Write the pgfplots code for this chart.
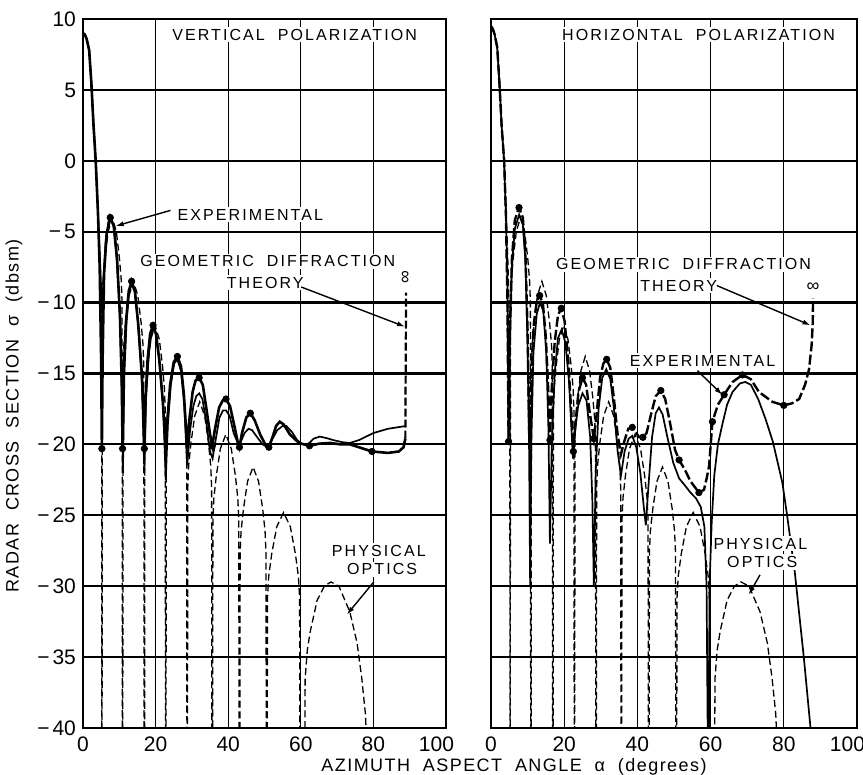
\documentclass[border=0pt]{standalone}
\usepackage{pgfplots}
\pgfplotsset{compat=1.18}
\usepackage{fontspec}
\setmainfont{Liberation Sans}
\newfontfamily\lab[LetterSpace=13]{Liberation Sans}
\newfontfamily\labt[LetterSpace=8]{Liberation Sans}
\usetikzlibrary{arrows.meta}

\pgfplotsset{
  panel/.style={
    scale only axis, width=181.5pt, height=354.5pt,
    xmin=0, xmax=100, ymin=-40, ymax=10,
    axis line style={line width=1.2pt},
    xtick={0,20,...,100}, xticklabels={0,20,40,60,80,\makebox[8pt][r]{100}},
    ytick={-40,-35,...,10},
    major tick length=0pt,
    ymajorgrids, major grid style={line width=1.1pt, black},
    extra x ticks={20,40,60,80}, extra x tick labels={},
    extra x tick style={grid=major, major grid style={line width=0.45pt, black}},
    tick label style={font=\fontsize{10.5}{12}\selectfont},
    xticklabel style={yshift=-1pt},
  },
  po/.style={black, line width=0.65pt, dash pattern=on 3.5pt off 1.8pt},
  ex/.style={black, line width=0.85pt},
  dot/.style={only marks, mark=*, mark size=1.6pt, black},
}
\tikzset{
  ann/.style={font=\lab\fontsize{8}{9}\selectfont, fill=white, inner sep=1pt},
  arr/.style={line width=0.7pt, -{Latex[length=4pt,width=2.6pt]}},
}

\begin{document}
\begin{tikzpicture}
\path[use as bounding box] (-41.5pt,-23.5pt) rectangle (390pt,364pt);

% ---------------- left panel: vertical polarization ----------------
\begin{axis}[panel, at={(0pt,0pt)}, anchor=south west,
  yticklabels={−\hspace{1.5pt}40,−\hspace{1.5pt}35,−\hspace{1.5pt}30,−\hspace{1.5pt}25,−\hspace{1.5pt}20,−\hspace{1.5pt}15,−\hspace{1.5pt}10,−\hspace{1.5pt}5,0,5,10}]
% physical optics
\addplot[po] coordinates {
(0,9.0) (0.5,8.9) (1,8.6) (1.7,7.8) (2.3,5.5) (2.9,2.5) (3.5,0) (4.1,-3.5) (4.6,-7) (5.0,-11) (5.15,-16) (5.2,-60)
(5.34,-10) (5.54,-8.5) (6.06,-6.9) (6.91,-5.0) (8.05,-4.0) (9.19,-5.0) (10.05,-6.9) (10.56,-8.5) (10.76,-10) (10.9,-60)
(11.05,-14.5) (11.26,-13) (11.8,-11.4) (12.7,-9.5) (13.9,-8.5) (15.1,-9.5) (16.0,-11.4) (16.54,-13) (16.75,-14.5) (16.9,-60)
(17.05,-17.6) (17.25,-16.1) (17.79,-14.5) (18.67,-12.6) (19.85,-11.6) (21.03,-12.6) (21.92,-14.5) (22.45,-16.1) (22.65,-17.6) (22.8,-60)
(22.95,-19.8) (23.15,-18.3) (23.69,-16.7) (24.57,-14.8) (25.75,-13.8) (26.93,-14.8) (27.82,-16.7) (28.35,-18.3) (28.55,-19.8) (28.7,-60)
(28.87,-23) (29.11,-21.5) (29.74,-19.9) (30.77,-18) (32.15,-17) (33.53,-18) (34.57,-19.9) (35.19,-21.5) (35.43,-23) (35.6,-60)
(35.79,-25.3) (36.05,-23.8) (36.73,-22.2) (37.85,-20.3) (39.35,-19.3) (40.85,-20.3) (41.98,-22.2) (42.65,-23.8) (42.91,-25.3) (43.1,-60)
(43.29,-27.6) (43.55,-26.1) (44.23,-24.5) (45.35,-22.6) (46.85,-21.6) (48.35,-22.6) (49.48,-24.5) (50.15,-26.1) (50.41,-27.6) (50.6,-60)
(50.83,-30.8) (51.16,-29.3) (52.0,-27.7) (53.39,-25.8) (55.25,-24.8) (57.11,-25.8) (58.5,-27.7) (59.34,-29.3) (59.67,-30.8) (59.9,-60)
(60.8,-60) (61.2,-36.5) (61.8,-34.5) (62.6,-33.2) (64.5,-31.0) (66.5,-30.0) (68.3,-29.7) (70.5,-30.0) (73.5,-31.8) (75.5,-34) (76.8,-36.5) (77.8,-39) (78.3,-42) (78.5,-60)
};
% experimental
\addplot[ex] coordinates {
(0,9) (0.5,8.9) (1,8.6) (1.7,7.8) (2.3,5.5) (2.9,2.5) (3.5,0) (4.1,-3.5) (4.6,-6.5) (5.0,-9.0) (5.3,-10.5) (5.6,-8.5) (6.2,-5.8) (7.0,-4.3) (7.6,-4.1) (8.4,-4.6) (9.2,-6.5) (10.0,-10) (10.6,-15) (11.0,-22)
(11.4,-15) (12.0,-11.3) (12.7,-9.2) (13.5,-8.7) (14.3,-9.3) (15.2,-11.5) (16.2,-15.5) (16.9,-22)
(17.4,-16.5) (18.2,-13.5) (18.9,-12.1) (19.5,-11.8) (20.2,-12.3) (21.1,-14.2) (22.1,-17.5) (22.8,-22.5)
(23.4,-18.5) (24.2,-15.8) (25.1,-14.3) (26.0,-14.0) (27.0,-14.8) (27.9,-17.2) (28.7,-21.5)
(29.5,-19.0) (30.4,-17.3) (31.2,-16.6) (32.0,-16.4) (32.9,-16.8) (34.0,-18.5) (35.0,-20.5) (35.7,-21.0)
(36.6,-19.6) (37.6,-18.1) (38.6,-17.6) (39.4,-17.6) (40.4,-18) (41.5,-19.2) (42.8,-20.0) (43.5,-19.8) (44.5,-19.2) (45.6,-18.9) (46.6,-19.0) (48,-19.5) (49.5,-20.0) (50.8,-20.2) (52.0,-19.7) (53.5,-19.0) (55.0,-18.7) (56.0,-18.7) (57.5,-19.1) (59.0,-19.7) (60.5,-20.0) (62.0,-20.0) (63.5,-19.6) (65.2,-19.45) (67,-19.55) (69,-19.7) (71.5,-19.85) (73.5,-19.9) (76,-19.7) (80,-19.2) (84,-18.9) (89,-18.7)
};
% geometric diffraction theory
\addplot[black, line width=1.3pt] coordinates {
(0,9) (0.5,8.9) (1,8.6) (1.7,7.8) (2.3,5.5) (2.9,2.5) (3.5,0) (4.1,-3.5) (4.6,-7.5) (5.0,-14) (5.2,-20.3)
(5.4,-14) (5.8,-8) (6.5,-5.2) (7.5,-4.0) (8.5,-4.6) (9.4,-7) (10.2,-11) (10.7,-16) (10.9,-20.3)
(11.2,-15) (11.8,-11.5) (12.6,-9.2) (13.4,-8.5) (14.3,-9.2) (15.2,-11.5) (16.2,-15) (16.7,-18) (16.9,-20.3)
(17.2,-17) (17.8,-14) (18.5,-12.2) (19.3,-11.6) (20.1,-12.2) (21.0,-14) (22.0,-17) (22.6,-19.5) (22.8,-20.3)
(23.2,-18.5) (24.0,-15.8) (25.0,-14.2) (26.0,-13.8) (27.0,-14.5) (27.8,-16.5) (28.4,-19) (28.7,-20.3)
(29.2,-18.5) (30.2,-16.3) (31.0,-15.5) (32.0,-15.3) (33.0,-15.8) (34.0,-17.5) (35.0,-19.3) (35.6,-20.1)
(36.3,-19) (37.5,-17.4) (38.5,-16.9) (39.4,-16.8) (40.5,-17.3) (41.7,-18.7) (42.6,-19.8) (43.1,-20.2)
(43.8,-19.2) (45,-18.1) (46.1,-17.8) (47.3,-18.3) (48.8,-19.3) (50.2,-20.0) (51.2,-20.2)
(52.2,-19.5) (53.2,-18.7) (54.2,-18.4) (55.3,-18.6) (57,-19.3) (59.5,-19.9) (62.4,-20.1)
(65,-19.95) (68,-19.9) (71,-20.0) (73.5,-20.0) (76,-20.2) (79.6,-20.5) (84,-20.6) (87,-20.5) (88.3,-20.2) (88.8,-19.6)
};
\addplot[black, line width=1.1pt, dash pattern=on 4pt off 1.5pt] coordinates {(88.8,-19.6) (89,-9.3)};
\addplot[dot] coordinates {
(5.2,-20.3) (10.9,-20.3) (16.9,-20.3) (7.5,-4.0) (13.4,-8.5) (19.3,-11.6) (26.0,-13.8) (32.0,-15.3) (39.4,-16.8)
(35.6,-20.1) (43.1,-20.2) (46.1,-17.8) (51.2,-20.2) (62.4,-20.1) (79.6,-20.5)};
% annotations
\node[ann] at (axis cs:58.3,8.9) {VERTICAL\ \ POLARIZATION};
\node[ann] at (axis cs:46.1,-3.8) {EXPERIMENTAL};
\draw[arr] (axis cs:24.1,-3.5) -- (axis cs:9.0,-4.6);
\node[ann] at (axis cs:50.9,-7.1) {GEOMETRIC\ \ DIFFRACTION};
\node[ann] at (axis cs:50.2,-8.6) {THEORY};
\draw[arr] (axis cs:60.1,-8.9) -- (axis cs:88.7,-11.7);
\node[font=\fontsize{9}{10}\selectfont, rotate=90, inner sep=0pt] at (axis cs:89,-8.2) {∞};
\node[ann] at (axis cs:81.5,-27.5) {PHYSICAL};
\node[ann] at (axis cs:82.4,-28.8) {OPTICS};
\draw[arr] (axis cs:80.1,-29.7) -- (axis cs:72.7,-32.0);
\end{axis}

% ---------------- right panel: horizontal polarization ----------------
\begin{axis}[panel, at={(204pt,0pt)}, anchor=south west, width=183pt,
  yticklabels={}]
\addplot[po] coordinates {
(0,9.5) (0.5,9.3) (1,8.9) (1.7,8.0) (2.3,5.5) (2.9,2.5) (3.5,0) (4.1,-3.5) (4.6,-7) (5.0,-11) (5.15,-16) (5.2,-60)
(5.34,-10) (5.54,-8.5) (6.06,-6.9) (6.91,-5.0) (8.05,-4.0) (9.19,-5.0) (10.05,-6.9) (10.56,-8.5) (10.76,-10) (10.9,-60)
(11.05,-14.5) (11.26,-13) (11.8,-11.4) (12.7,-9.5) (13.9,-8.5) (15.1,-9.5) (16.0,-11.4) (16.54,-13) (16.75,-14.5) (16.9,-60)
(17.05,-17.6) (17.25,-16.1) (17.79,-14.5) (18.67,-12.6) (19.85,-11.6) (21.03,-12.6) (21.92,-14.5) (22.45,-16.1) (22.65,-17.6) (22.8,-60)
(22.95,-19.8) (23.15,-18.3) (23.69,-16.7) (24.57,-14.8) (25.75,-13.8) (26.93,-14.8) (27.82,-16.7) (28.35,-18.3) (28.55,-19.8) (28.7,-60)
(28.87,-23) (29.11,-21.5) (29.74,-19.9) (30.77,-18) (32.15,-17) (33.53,-18) (34.57,-19.9) (35.19,-21.5) (35.43,-23) (35.6,-60)
(35.79,-25.3) (36.05,-23.8) (36.73,-22.2) (37.85,-20.3) (39.35,-19.3) (40.85,-20.3) (41.98,-22.2) (42.65,-23.8) (42.91,-25.3) (43.1,-60)
(43.29,-27.6) (43.55,-26.1) (44.23,-24.5) (45.35,-22.6) (46.85,-21.6) (48.35,-22.6) (49.48,-24.5) (50.15,-26.1) (50.41,-27.6) (50.6,-60)
(50.83,-30.8) (51.16,-29.3) (52.0,-27.7) (53.39,-25.8) (55.25,-24.8) (57.11,-25.8) (58.5,-27.7) (59.34,-29.3) (59.67,-30.8) (59.9,-60)
(60.8,-60) (61.2,-36.5) (61.8,-34.5) (62.6,-33.2) (64.5,-31.0) (66.5,-30.0) (68.3,-29.7) (70.5,-30.0) (73.5,-31.8) (75.5,-34) (76.8,-36.5) (77.8,-39) (78.3,-42) (78.5,-60)
};
% experimental
\addplot[ex] coordinates {
(0,9.5) (0.5,9.3) (1,8.9) (1.7,8.0) (2.3,5.5) (2.9,2.5) (3.6,0) (4.1,-4) (4.5,-9) (4.8,-20)
(5.1,-13) (5.7,-7.5) (6.5,-4.8) (7.7,-3.8) (8.7,-4.5) (9.4,-7) (10.0,-13) (10.4,-20) (10.7,-30)
(11.0,-20) (11.6,-13.5) (12.5,-10.8) (13.4,-10.0) (14.3,-10.6) (15.1,-13.5) (15.7,-19) (16.1,-27)
(16.6,-20) (17.4,-15) (18.3,-12.5) (19.3,-11.9) (20.3,-12.8) (21.3,-15.5) (22.0,-19) (22.4,-21)
(22.9,-19.2) (23.8,-17.3) (25.0,-16.4) (26.1,-16.9) (27.1,-19.5) (27.7,-24) (28.1,-30)
(28.6,-22) (29.4,-17.5) (30.4,-15.3) (31.5,-14.7) (32.6,-15.4) (33.6,-17.5) (34.6,-20.5) (35.5,-22.2)
(36.5,-20.5) (37.6,-19.6) (38.6,-19.4) (39.7,-20.2) (40.8,-22) (41.7,-24.3) (42.3,-25.7)
(43.0,-23) (44.0,-19.5) (45.0,-17.8) (45.9,-17.4) (46.9,-17.9) (48.2,-19.5) (49.8,-21.3) (51.4,-22.4) (53.0,-22.9) (54.5,-23.4) (56.0,-23.8) (57.3,-24.4) (58.3,-25.8) (58.9,-30) (59.2,-40) (59.4,-45)
(59.5,-45) (59.7,-30) (60.3,-25.5) (61,-22.2) (62,-20) (63.2,-18.6) (64.5,-17.2) (66,-16.3) (68,-15.7) (69.5,-15.6) (71,-15.8) (73,-16.8) (75,-18.2) (77,-19.8) (79.6,-22.7) (80.9,-25) (83,-29) (85.5,-35.1) (87.3,-40) (87.6,-45)
};
% geometric diffraction theory
\addplot[black, line width=1.2pt, dash pattern=on 5pt off 1.6pt] coordinates {
(0,9.5) (0.5,9.3) (1,8.9) (1.7,8.0) (2.3,5.5) (2.9,2.5) (3.6,0) (4.1,-4) (4.5,-10) (4.8,-19.8)
(5.1,-13) (5.7,-7) (6.5,-4.2) (7.65,-3.3) (8.7,-4.0) (9.4,-6.5) (10.0,-12) (10.5,-20.3)
(11.0,-15) (11.7,-11.5) (12.5,-9.9) (13.3,-9.5) (14.2,-10.1) (15.0,-12.5) (15.7,-16.5) (16.1,-19.7)
(16.6,-16) (17.4,-12.8) (18.3,-10.9) (19.2,-10.4) (20.1,-11.3) (21.1,-14) (22.0,-18) (22.5,-20.5)
(23.0,-18.8) (23.9,-16.3) (25.0,-15.3) (26.0,-15.8) (27.0,-17.8) (28.1,-19.6)
(28.8,-18) (29.8,-15.3) (30.7,-14.3) (31.6,-14.0) (32.6,-14.6) (33.6,-16.8) (34.6,-19.3) (35.5,-20.7)
(36.4,-19.8) (37.5,-18.9) (38.6,-18.8) (39.7,-19.2) (40.5,-19.5) (41.5,-19.5) (42.5,-19.2) (43.8,-17.8) (45.0,-16.6) (46.4,-16.2) (47.6,-16.8) (49,-18.6) (50.3,-20.4) (51.4,-21.1) (53,-21.8) (54.5,-22.6) (56.8,-23.4) (58.2,-23.2) (59,-22.3) (59.6,-21.5) (60.5,-18.4) (62,-17.2) (63.7,-16.5) (66,-15.6) (68.7,-15.1) (71,-15.4) (73.2,-16.3) (76.9,-17.0) (80,-17.25) (82.3,-17.1) (84.2,-16.8) (85.8,-15.8) (86.9,-14.7) (87.6,-13.0) (87.9,-11.5) (88,-9.7)
};
\addplot[dot] coordinates {
(4.8,-19.8) (7.65,-3.3) (13.3,-9.5) (16.1,-19.7) (19.2,-10.4) (22.5,-20.5) (25.0,-15.3) (28.1,-19.6) (31.6,-14.0)
(38.6,-18.8) (41.5,-19.5) (46.4,-16.2) (51.4,-21.1) (56.8,-23.4) (60.5,-18.4) (63.7,-16.5) (68.7,-15.1) (80,-17.25)};
% annotations
\node[ann] at (axis cs:56.7,8.9) {HORIZONTAL\ \ POLARIZATION};
\node[ann] at (axis cs:52.6,-7.3) {GEOMETRIC\ \ DIFFRACTION};
\node[ann] at (axis cs:51.3,-8.8) {THEORY};
\draw[arr] (axis cs:61.7,-8.8) -- (axis cs:87.3,-11.6);
\node[font=\fontsize{9}{10}\selectfont, inner sep=0pt] at (axis cs:88,-8.9) {∞};
\node[ann] at (axis cs:57.8,-14.1) {EXPERIMENTAL};
\draw[arr] (axis cs:56.4,-14.8) -- (axis cs:63.2,-16.5);
\node[ann] at (axis cs:73.6,-27.0) {PHYSICAL};
\node[ann] at (axis cs:74.1,-28.3) {OPTICS};
\draw[arr] (axis cs:73.5,-29.2) -- (axis cs:70.4,-30.6);
\end{axis}

% axis titles
\node[font=\labt\fontsize{9}{10}\selectfont] at (215.5pt,-19.5pt) {AZIMUTH\ \ ASPECT\ \ ANGLE\ \ α\ \ (degrees)};
\node[font=\labt\fontsize{9}{10}\selectfont, rotate=90] at (-34.5pt,156pt) {RADAR\ \ CROSS\ \ SECTION\ \ σ\ \ (dbsm)};
\end{tikzpicture}
\end{document}
